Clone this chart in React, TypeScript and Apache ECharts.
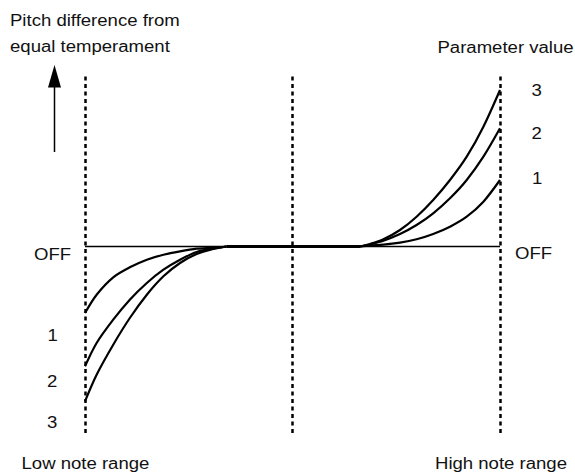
import React, { useEffect, useRef } from "react";
import * as echarts from "echarts";

// x: 0 = low end of the range, 50 = middle, 100 = high end
// y: pitch difference (OFF = 0), arbitrary units
const leftX = [0, 2.8, 6.8, 10.8, 14.9, 18.9, 22.9, 26.9, 30.9, 34.1];
const left1 = [-6.65, -4.82, -3.08, -2.08, -1.32, -0.82, -0.48, -0.22, -0.12, 0];
const left2 = [-11.98, -9.65, -7.32, -5.32, -3.65, -2.32, -1.32, -0.55, -0.22, 0];
const left3 = [-15.48, -12.82, -9.82, -7.15, -4.82, -2.98, -1.65, -0.75, -0.25, 0];

const rightX = [66.3, 68.7, 71.9, 75.9, 79.9, 83.9, 87.95, 91.98, 96.0, 100];
const right1 = [0, 0.12, 0.18, 0.38, 0.72, 1.25, 1.98, 2.98, 4.48, 6.65];
const right2 = [0, 0.22, 0.58, 1.25, 2.15, 3.32, 4.82, 6.65, 8.98, 11.82];
const right3 = [0, 0.25, 0.72, 1.65, 2.98, 4.65, 6.65, 8.98, 11.98, 15.65];

const offX = [0, 100];
const flatX = [34.1, 66.3];
const dashedX = [0, 50, 100];

const leftLabels = ["OFF", "1", "2", "3"];
const rightLabels = ["3", "2", "1", "OFF"];
const titleLines = ["Pitch difference from", "equal temperament"];
const paramTitle = "Parameter value";
const lowLabel = "Low note range";
const highLabel = "High note range";

const FONT = "Liberation Sans, Arial, Helvetica, sans-serif";
const INK = "#111";
const SX = 1.16;

function pairs(xs: number[], ys: number[]) {
  return xs.map((x, i) => [x, ys[i]]);
}

function txt(text: string, x: number, y: number, align: string = "left") {
  return {
    type: "text",
    x,
    y,
    scaleX: SX,
    silent: true,
    style: {
      text,
      x: 0,
      y: 0,
      fill: INK,
      font: `16px ${FONT}`,
      textAlign: align,
      textVerticalAlign: "middle",
    },
  };
}

export default function App() {
  const ref = useRef<HTMLDivElement>(null);
  useEffect(() => {
    if (!ref.current) return;
    const chart = echarts.init(ref.current, null, { renderer: "svg" });
    const curveStyle = { color: "#000", width: 2.2 };
    const curve = (name: string, xs: number[], ys: number[]) => ({
      name,
      type: "line",
      data: pairs(xs, ys),
      showSymbol: false,
      smooth: 0.3,
      silent: true,
      lineStyle: curveStyle,
    });
    const leftY = [0, 335, 381.5, 422];
    const rightY = [90.7, 133, 178, 253];
    const graphic: any[] = [
      txt(titleLines[0], 10, 20.5),
      txt(titleLines[1], 10, 46.5),
      txt(paramTitle, 437.5, 47.5),
      txt(lowLabel, 21.5, 463.3),
      txt(highLabel, 435, 463.3),
      txt(leftLabels[0], 34, 254.5),
      txt(leftLabels[1], 47.5, leftY[1]),
      txt(leftLabels[2], 47, leftY[2]),
      txt(leftLabels[3], 47, leftY[3]),
      txt(rightLabels[0], 531.5, rightY[0]),
      txt(rightLabels[1], 531.5, rightY[1]),
      txt(rightLabels[2], 532, rightY[2]),
      txt(rightLabels[3], 515, rightY[3]),
      {
        type: "line",
        silent: true,
        shape: { x1: 54.5, y1: 152, x2: 54.5, y2: 84 },
        style: { stroke: "#000", lineWidth: 1.5 },
      },
      {
        type: "polygon",
        silent: true,
        shape: { points: [[54.5, 65], [48, 87.5], [61, 87.5]] },
        style: { fill: "#000" },
      },
    ];
    chart.setOption({
      animation: false,
      backgroundColor: "#fff",
      grid: { left: 85, right: 75, top: 73, bottom: 40 },
      xAxis: { type: "value", min: 0, max: 100, show: false },
      yAxis: { type: "value", min: -18.65, max: 17.35, show: false },
      graphic,
      series: [
        {
          name: "OFF",
          type: "line",
          data: pairs(offX, [0, 0]),
          showSymbol: false,
          silent: true,
          lineStyle: { color: "#000", width: 1.6 },
          markLine: {
            silent: true,
            symbol: "none",
            label: { show: false },
            lineStyle: { color: "#000", width: 2.5, type: [4, 3.5] },
            data: dashedX.map((x) => ({ xAxis: x })),
          },
        },
        {
          name: "flat",
          type: "line",
          data: pairs(flatX, [0, 0]),
          showSymbol: false,
          silent: true,
          lineStyle: { color: "#000", width: 3 },
        },
        curve("L1", leftX, left1),
        curve("L2", leftX, left2),
        curve("L3", leftX, left3),
        curve("R1", rightX, right1),
        curve("R2", rightX, right2),
        curve("R3", rightX, right3),
      ],
    });
    return () => chart.dispose();
  }, []);
  return (
    <div
      ref={ref}
      style={{ position: "fixed", left: 0, top: 0, width: 575, height: 473 }}
    />
  );
}
